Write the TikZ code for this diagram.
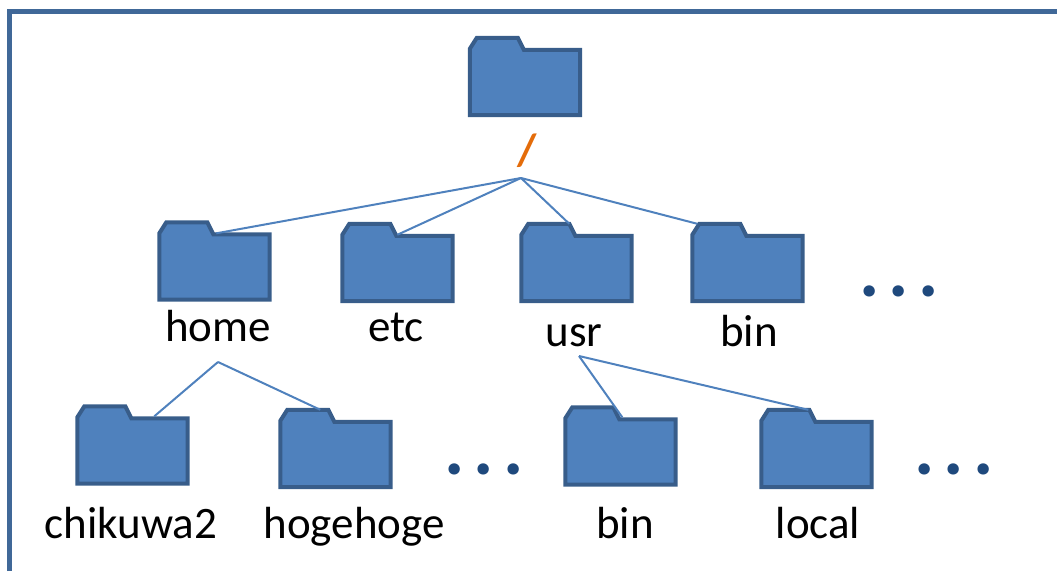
\documentclass[tikz,border=0pt]{standalone}
\usepackage{fontspec}
\usepackage{tikz}
\usepackage{xcolor}
\setmainfont{Carlito}
\definecolor{dirblue}{RGB}{79, 129, 189}
\definecolor{diredge}{RGB}{56, 93, 138}
\definecolor{dirframe}{RGB}{64, 104, 152}
\definecolor{dirdots}{RGB}{31, 73, 125}
\definecolor{dirslash}{RGB}{228, 108, 10}
\tikzset{
    folderbox/.style={rectangle, minimum width=110pt, minimum height=77pt, inner sep=0pt},
    folderline/.style={draw=diredge, fill=dirblue, line width=4pt, line join=miter},
    dirlabel/.style={anchor=base, inner sep=0pt, font=\fontsize{45}{45}\selectfont, text=black},
    slashlabel/.style={anchor=base, inner sep=0pt, font=\fontsize{45}{45}\selectfont\bfseries, text=dirslash},
    morelabel/.style={anchor=base, inner sep=0pt, font=\fontsize{76}{76}\selectfont\bfseries, text=dirdots},
    dirlink/.style={draw=dirblue, line width=2pt}
}
\newcommand{\folder}[2]{
    \node[folderbox] (#1) at (#2) {};
    \draw[folderline] (#1.south west) -- (#1.south east) -- ([yshift=-12pt]#1.north east)
        -- ([xshift=54pt,yshift=-12pt]#1.north west) -- ([xshift=48pt]#1.north west)
        -- ([xshift=7pt]#1.north west) -- ([yshift=-11pt]#1.north west) -- cycle;
}
\newcommand{\moredots}{.\hspace{9pt}.\hspace{9pt}.}

\begin{document}
\begin{tikzpicture}[x=1pt, y=-1pt]
    \useasboundingbox (0,0) rectangle (1057,571);
    \draw[dirframe, line width=5pt] (9,571) -- (9,11) -- (1057,11);

    \folder{root}{525,76.5}
    \folder{home}{214.5,261}
    \folder{etc}{397.5,262.5}
    \folder{usr}{576.5,262.5}
    \folder{bin}{747.5,262.5}
    \folder{chikuwa}{132.5,445}
    \folder{hoge}{335.5,448.5}
    \folder{usrbin}{620.5,446}
    \folder{local}{816.5,448.5}

    \node[slashlabel] (rootname) at (527,165) {/};
    \node[dirlabel] (homename) at (218,341) {home};
    \node[dirlabel] (etcname) at (396,341) {etc};
    \node[dirlabel] (usrname) at (574,346) {usr};
    \node[dirlabel] (binname) at (749,346) {bin};
    \node[dirlabel] (chikuwaname) at (131,538) {chikuwa2};
    \node[dirlabel] (hogename) at (354,538) {hogehoge};
    \node[dirlabel] (usrbinname) at (625,538) {bin};
    \node[dirlabel] (localname) at (818,538) {local};

    \node[morelabel] (moretop) at (899,296) {\moredots};
    \node[morelabel] (morehome) at (484,474) {\moredots};
    \node[morelabel] (moreusr) at (954,474) {\moredots};

    \coordinate (roothub) at (521,178);
    \coordinate (homehub) at (218,362);
    \coordinate (usrhub) at (579,356);

    \draw[dirlink] (roothub) -- ([xshift=57pt,yshift=-11pt]home.north west);
    \draw[dirlink] (roothub) -- ([xshift=55pt,yshift=-11pt]etc.north west);
    \draw[dirlink] (roothub) -- ([xshift=48pt]usr.north west);
    \draw[dirlink] (roothub) -- ([xshift=5pt]bin.north west);
    \draw[dirlink] (homehub) -- ([xshift=77pt,yshift=-10pt]chikuwa.north west);
    \draw[dirlink] (homehub) -- ([xshift=40pt]hoge.north west);
    \draw[dirlink] (usrhub) -- ([xshift=57pt,yshift=-10pt]usrbin.north west);
    \draw[dirlink] (usrhub) -- ([xshift=47pt]local.north west);
\end{tikzpicture}
\end{document}
